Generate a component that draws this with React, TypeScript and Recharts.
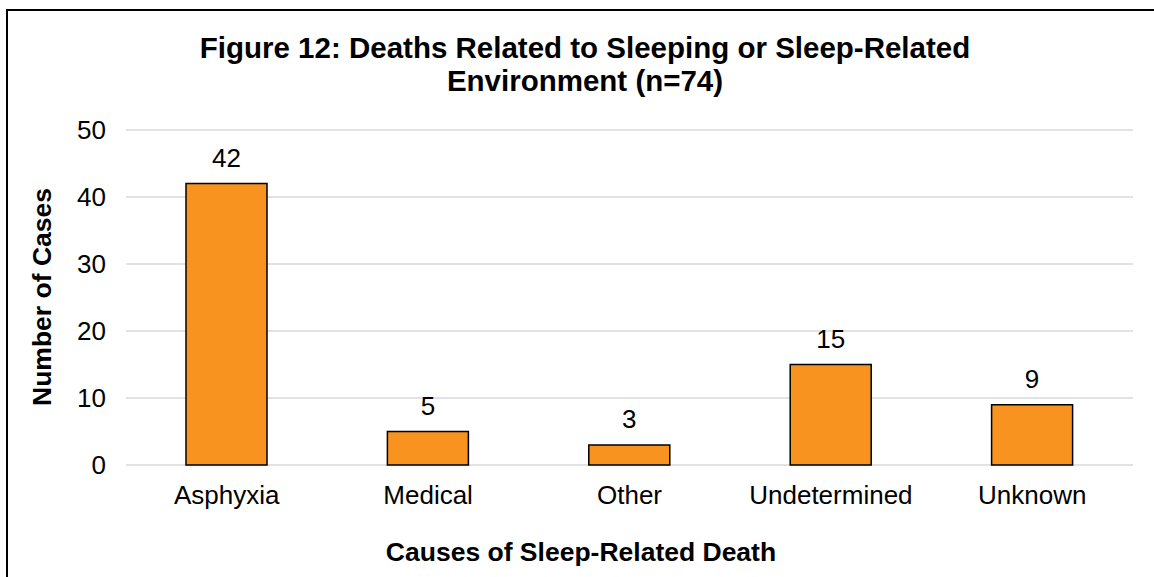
import { BarChart, Bar, XAxis, YAxis, CartesianGrid, LabelList } from 'recharts';

// Causes of sleep-related death (n=74)
const causes = ['Asphyxia', 'Medical', 'Other', 'Undetermined', 'Unknown'];
const caseCounts = [42, 5, 3, 15, 9];
const yTicks = [0, 10, 20, 30, 40, 50];

const chartData = causes.map((cause, i) => ({
  name: cause,
  cases: caseCounts[i],
}));

const FONT = '"Liberation Sans", Arial, sans-serif';

const App = () => {
  return (
    <div style={{ position: 'absolute', left: 0, top: 0, width: 1154, height: 577, background: '#fff', fontFamily: FONT, overflow: 'hidden' }}>
      {/* frame (only left and top edges show in the crop) */}
      <div
        style={{
          position: 'absolute',
          left: 6,
          top: 9,
          width: 1148,
          height: 568,
          borderLeft: '2px solid #000',
          borderTop: '2px solid #000',
          boxSizing: 'border-box',
        }}
      />

      {/* Title */}
      <div
        style={{
          position: 'absolute',
          left: 0,
          top: 31,
          width: 1170,
          textAlign: 'center',
          fontWeight: 'bold',
          fontSize: 29.5,
          lineHeight: '33px',
          color: '#000',
        }}
      >
        Figure 12: Deaths Related to Sleeping or Sleep-Related
        <br />
        Environment (n=74)
      </div>

      <div style={{ position: 'absolute', left: 0, top: 0 }}>
        <BarChart
          width={1154}
          height={577}
          data={chartData}
          margin={{ top: 130, right: 21, left: 26, bottom: 52 }}
        >
          <CartesianGrid vertical={false} stroke="#D9D9D9" strokeWidth={1.5} />
          <XAxis
            dataKey="name"
            axisLine={false}
            tickLine={false}
            tickSize={0}
            tickMargin={21}
            height={60}
            interval={0}
            tick={{ fill: '#000', fontSize: 26, fontFamily: FONT }}
          />
          <YAxis
            domain={[0, 50]}
            ticks={yTicks}
            axisLine={false}
            tickLine={false}
            tickSize={0}
            tickMargin={20}
            width={100}
            tick={{ fill: '#000', fontSize: 26, fontFamily: FONT }}
          />
          <Bar dataKey="cases" fill="#F7931E" stroke="#000" strokeWidth={1.5} barSize={81} isAnimationActive={false}>
            <LabelList dataKey="cases" position="top" offset={17} fill="#000" fontSize={26} fontFamily={FONT} />
          </Bar>
        </BarChart>
      </div>

      {/* Y axis title */}
      <div
        style={{
          position: 'absolute',
          left: 42,
          top: 297,
          transform: 'translate(-50%, -50%) rotate(-90deg)',
          whiteSpace: 'nowrap',
          fontWeight: 'bold',
          fontSize: 26.5,
          color: '#000',
        }}
      >
        Number of Cases
      </div>

      {/* X axis title */}
      <div
        style={{
          position: 'absolute',
          left: 0,
          top: 537,
          width: 1162,
          textAlign: 'center',
          fontWeight: 'bold',
          fontSize: 26.5,
          lineHeight: '30px',
          color: '#000',
        }}
      >
        Causes of Sleep-Related Death
      </div>
    </div>
  );
};

export default App;
